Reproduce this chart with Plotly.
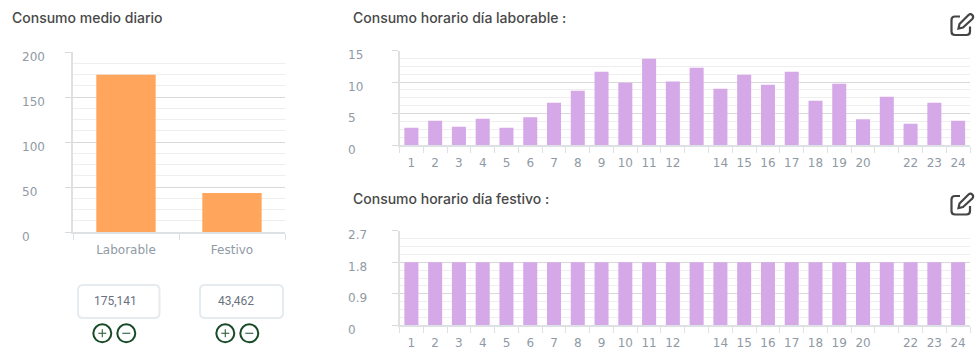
import plotly.graph_objects as go

W, H = 977, 350

day_types = ["Laborable", "Festivo"]
daily_values = [175.141, 43.462]
daily_ticks = [0, 50, 100, 150, 200]
daily_minor = [12.5 * i for i in range(17)]
daily_inputs = ["175,141", "43,462"]

hours = [str(h) for h in range(1, 25)]
hour_labels = [h if h not in ("13", "21") else "" for h in hours]
workday_values = [2.76, 3.87, 2.91, 4.19, 2.76, 4.40, 6.73, 8.64, 11.66, 9.91, 13.73, 10.12,
                  12.30, 8.96, 11.18, 9.59, 11.66, 7.05, 9.75, 4.08, 7.68, 3.39, 6.73, 3.87]
workday_ticks = [0, 5, 10, 15]
workday_minor = [1.25 * i for i in range(13)]
holiday_values = [1.8] * 24
holiday_ticks = [0, 0.9, 1.8, 2.7]
holiday_tick_text = ["0", "0.9", "1.8", "2.7"]
holiday_minor = [0.225 * i for i in range(13)]

ORANGE = "#ffa65c"
LILAC = "#d5a9e8"
GRID = "#d9d9d9"
MINOR = "#eeeeee"
AXIS = "#dde1e4"
LABEL = "#909aa5"
TITLE = "#484848"
GREEN = "#174a26"
ICON = "#444444"
TICK_FONT = dict(family="DejaVu Sans", size=12, color=LABEL)


def px(x):
    return x / W


def py(y):
    return 1 - y / H


fig = go.Figure()

panels = [
    dict(suffix="", x=(73, 285), y=(52.3, 232), cats=day_types, vals=daily_values, color=ORANGE, width=0.56,
         top=200, ticks=daily_ticks, text=[str(t) for t in daily_ticks], minor=daily_minor,
         labels=day_types, label_x=22),
    dict(suffix="2", x=(399.5, 970), y=(50.7, 145), cats=hours, vals=workday_values, color=LILAC, width=0.59,
         top=15, ticks=workday_ticks, text=[str(t) for t in workday_ticks], minor=workday_minor,
         labels=hour_labels, label_x=348),
    dict(suffix="3", x=(399.5, 970), y=(230.7, 325.3), cats=hours, vals=holiday_values, color=LILAC, width=0.59,
         top=2.7, ticks=holiday_ticks, text=holiday_tick_text, minor=holiday_minor,
         labels=hour_labels, label_x=348),
]

annotations = []
layout_axes = {}
for p in panels:
    s = p["suffix"]
    fig.add_trace(go.Bar(x=p["cats"], y=p["vals"], width=p["width"], marker=dict(color=p["color"], line_width=0),
                         xaxis="x" + s, yaxis="y" + s, showlegend=False, hoverinfo="x+y"))
    layout_axes["xaxis" + s] = dict(
        domain=[px(p["x"][0]), px(p["x"][1])], anchor="y" + s, type="category",
        tickson="boundaries", tickmode="array", tickvals=p["cats"], ticktext=p["labels"],
        ticks="outside", ticklen=6, tickwidth=1, tickcolor=AXIS, tickfont=TICK_FONT, ticklabelstandoff=6,
        tickangle=0, automargin=False,
        showgrid=False, showline=True, linecolor=AXIS, linewidth=1.5, fixedrange=True,
    )
    layout_axes["yaxis" + s] = dict(
        domain=[py(p["y"][1]), py(p["y"][0])], anchor="x" + s, range=[0, p["top"]],
        tickmode="array", tickvals=p["ticks"], showticklabels=False,
        ticks="outside", ticklen=6, tickwidth=1, tickcolor=GRID,
        showgrid=True, gridcolor=GRID, gridwidth=1, zeroline=False,
        showline=True, linecolor=AXIS, linewidth=2, fixedrange=True,
        minor=dict(tickmode="array", tickvals=p["minor"], showgrid=True, gridcolor=MINOR, gridwidth=1, ticks=""),
    )
    # Value labels sit left-aligned in a column, just below their gridline
    for value, text in zip(p["ticks"], p["text"]):
        annotations.append(dict(x=px(p["label_x"]), xref="paper", xanchor="left", align="left",
                                y=value, yref="y" + s, yanchor="middle", yshift=-4.5, xshift=-2.5,
                                text=text, showarrow=False, font=TICK_FONT))
fig.update_layout(**layout_axes)

titles = [("Consumo medio diario", 12, 18), ("Consumo horario día laborable :", 353, 18),
          ("Consumo horario día festivo :", 353, 198)]
for text, x, y in titles:
    annotations.append(dict(x=px(x), y=py(y), xref="paper", yref="paper", xanchor="left", yanchor="middle",
                            text=text, showarrow=False, xshift=-2,
                            font=dict(family="Inter", size=14, weight=500, color=TITLE)))

shapes = []


def rounded_rect(x0, y0, x1, y1, r):
    return (f"M {px(x0 + r)} {py(y0)} L {px(x1 - r)} {py(y0)} Q {px(x1)} {py(y0)} {px(x1)} {py(y0 + r)} "
            f"L {px(x1)} {py(y1 - r)} Q {px(x1)} {py(y1)} {px(x1 - r)} {py(y1)} "
            f"L {px(x0 + r)} {py(y1)} Q {px(x0)} {py(y1)} {px(x0)} {py(y1 - r)} "
            f"L {px(x0)} {py(y0 + r)} Q {px(x0)} {py(y0)} {px(x0 + r)} {py(y0)} Z")


def paper_shape(**kw):
    shapes.append(dict(xref="paper", yref="paper", **kw))


def segment(x0, y0, x1, y1, color, width):
    paper_shape(type="line", x0=px(x0), x1=px(x1), y0=py(y0), y1=py(y1), line=dict(color=color, width=width))


# Input boxes with their +/- buttons
for text, x0, x1, text_x, plus_x, minus_x in [(daily_inputs[0], 78, 159.5, 115.5, 102.3, 126.3),
                                              (daily_inputs[1], 200, 283, 235.5, 225.3, 249.3)]:
    paper_shape(type="path", path=rounded_rect(x0, 285, x1, 318, 5), line=dict(color="#e5ebee", width=2))
    annotations.append(dict(x=px(text_x), y=py(301), xref="paper", yref="paper", xanchor="center",
                            yanchor="middle", text=text, showarrow=False,
                            font=dict(family="Roboto", size=12, color="#6a7280")))
    for cx in (plus_x, minus_x):
        paper_shape(type="circle", x0=px(cx - 9), x1=px(cx + 9), y0=py(333.3 + 9), y1=py(333.3 - 9),
                    line=dict(color=GREEN, width=2))
        segment(cx - 4, 333.3, cx + 4, 333.3, "#3d6b4a", 1.2)
    segment(plus_x, 329.3, plus_x, 337.3, "#3d6b4a", 1.2)

# Edit icons beside the hourly charts
for top in (13.5, 193):
    paper_shape(type="path", line=dict(color=ICON, width=2.2),
                path=(f"M {px(960)} {py(top + 3)} L {px(955)} {py(top + 3)} Q {px(951.5)} {py(top + 3)} {px(951.5)} {py(top + 6.5)} "
                      f"L {px(951.5)} {py(top + 18)} Q {px(951.5)} {py(top + 21.5)} {px(955)} {py(top + 21.5)} "
                      f"L {px(966.5)} {py(top + 21.5)} Q {px(970)} {py(top + 21.5)} {px(970)} {py(top + 18)} L {px(970)} {py(top + 13)}"))
    paper_shape(type="path", line=dict(color=ICON, width=2.2),
                path=(f"M {px(958.5)} {py(top + 15)} L {px(959.5)} {py(top + 10.5)} L {px(968.5)} {py(top + 1.5)} "
                      f"Q {px(970.5)} {py(top - 0.3)} {px(972.3)} {py(top + 1.5)} Q {px(974)} {py(top + 3.5)} {px(972.3)} {py(top + 5.5)} "
                      f"L {px(963)} {py(top + 14)} Z"))

fig.update_layout(width=W, height=H, margin=dict(l=0, r=0, t=0, b=0), autosize=False,
                  paper_bgcolor="white", plot_bgcolor="white", showlegend=False,
                  annotations=annotations, shapes=shapes)
fig.write_html("out.html", config=dict(displayModeBar=False))
